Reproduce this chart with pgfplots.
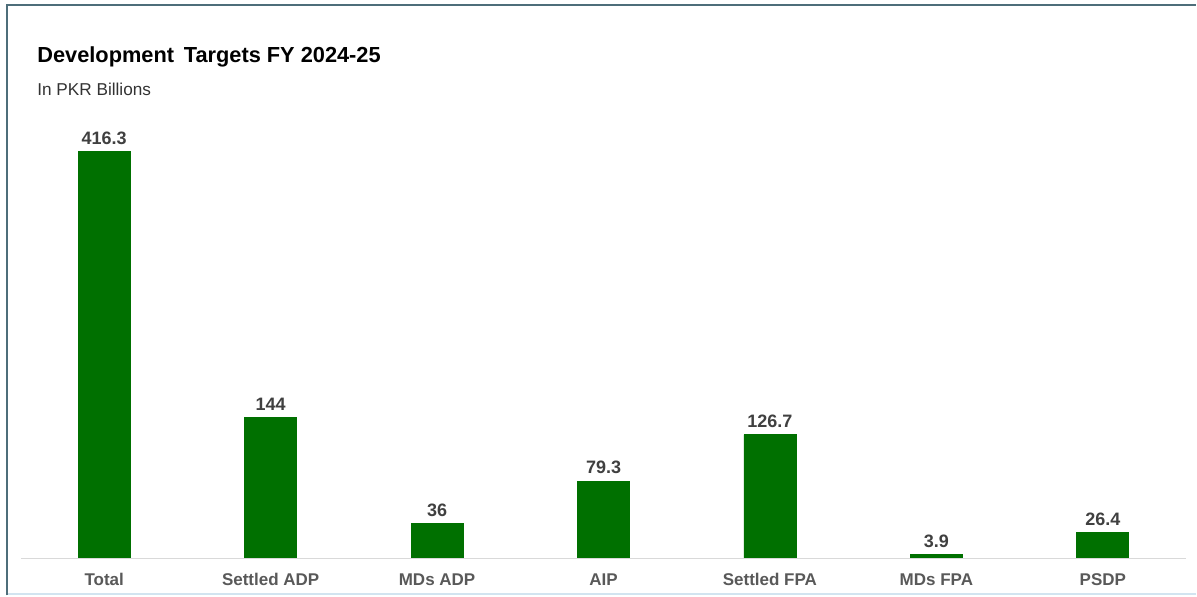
\documentclass[border=0pt]{standalone}
\usepackage{pgfplots}
\pgfplotsset{compat=1.18}
\usepackage{fontspec}
\setmainfont{Liberation Sans}
\definecolor{bargreen}{RGB}{0,112,0}
\definecolor{framec}{RGB}{78,110,122}
\definecolor{framelight}{RGB}{210,228,240}
\definecolor{axisgray}{RGB}{217,217,217}
\definecolor{valgray}{RGB}{64,64,64}
\definecolor{tickgray}{RGB}{89,89,89}
\begin{document}
\begin{tikzpicture}
\fill[white] (0,0) rectangle (598.5pt,298pt);
\draw[framelight, line width=0.8pt] (3.5pt,0.6pt) -- (598.5pt,0.6pt);
\draw[framec, line width=1pt] (3.5pt,0) -- (3.5pt,295.5pt) -- (598.5pt,295.5pt);
\node[anchor=base west, font=\fontsize{10.9}{12}\selectfont\bfseries, text=black, inner sep=0pt] at (18.5pt,266.5pt) {Development\, Targets FY 2024-25};
\node[anchor=base west, font=\fontsize{8.6}{10}\selectfont, text=black!80, inner sep=0pt] at (18.5pt,250pt) {In PKR Billions};
\begin{axis}[
  at={(10.5pt,18.5pt)}, anchor=south west,
  scale only axis,
  width=583pt, height=205.4pt,
  xmin=-0.5, xmax=6.5, ymin=0, ymax=420,
  axis line style={draw=none},
  axis x line*=bottom,
  hide y axis,
  ybar, bar width=26pt, bar shift=0pt,
  xtick=data,
  xticklabels={Total,Settled ADP,MDs ADP,AIP,Settled FPA,MDs FPA,PSDP},
  xticklabel style={font=\fontsize{8.5}{10}\selectfont\bfseries, text=tickgray, yshift=-4pt},
  major tick length=0pt,
  nodes near coords,
  nodes near coords style={font=\fontsize{9}{10}\selectfont\bfseries, text=valgray, yshift=0pt},
  point meta=explicit symbolic,
  clip=false,
]
\addplot[fill=bargreen, draw=bargreen] coordinates {
  (0,416.3) [416.3]
  (1,144) [144]
  (2,36) [36]
  (3,79.3) [79.3]
  (4,126.7) [126.7]
  (5,3.9) [3.9]
  (6,26.4) [26.4]
};
\draw[axisgray, line width=0.6pt] (axis cs:-0.5,0) -- (axis cs:6.5,0);
\end{axis}
\end{tikzpicture}
\end{document}
